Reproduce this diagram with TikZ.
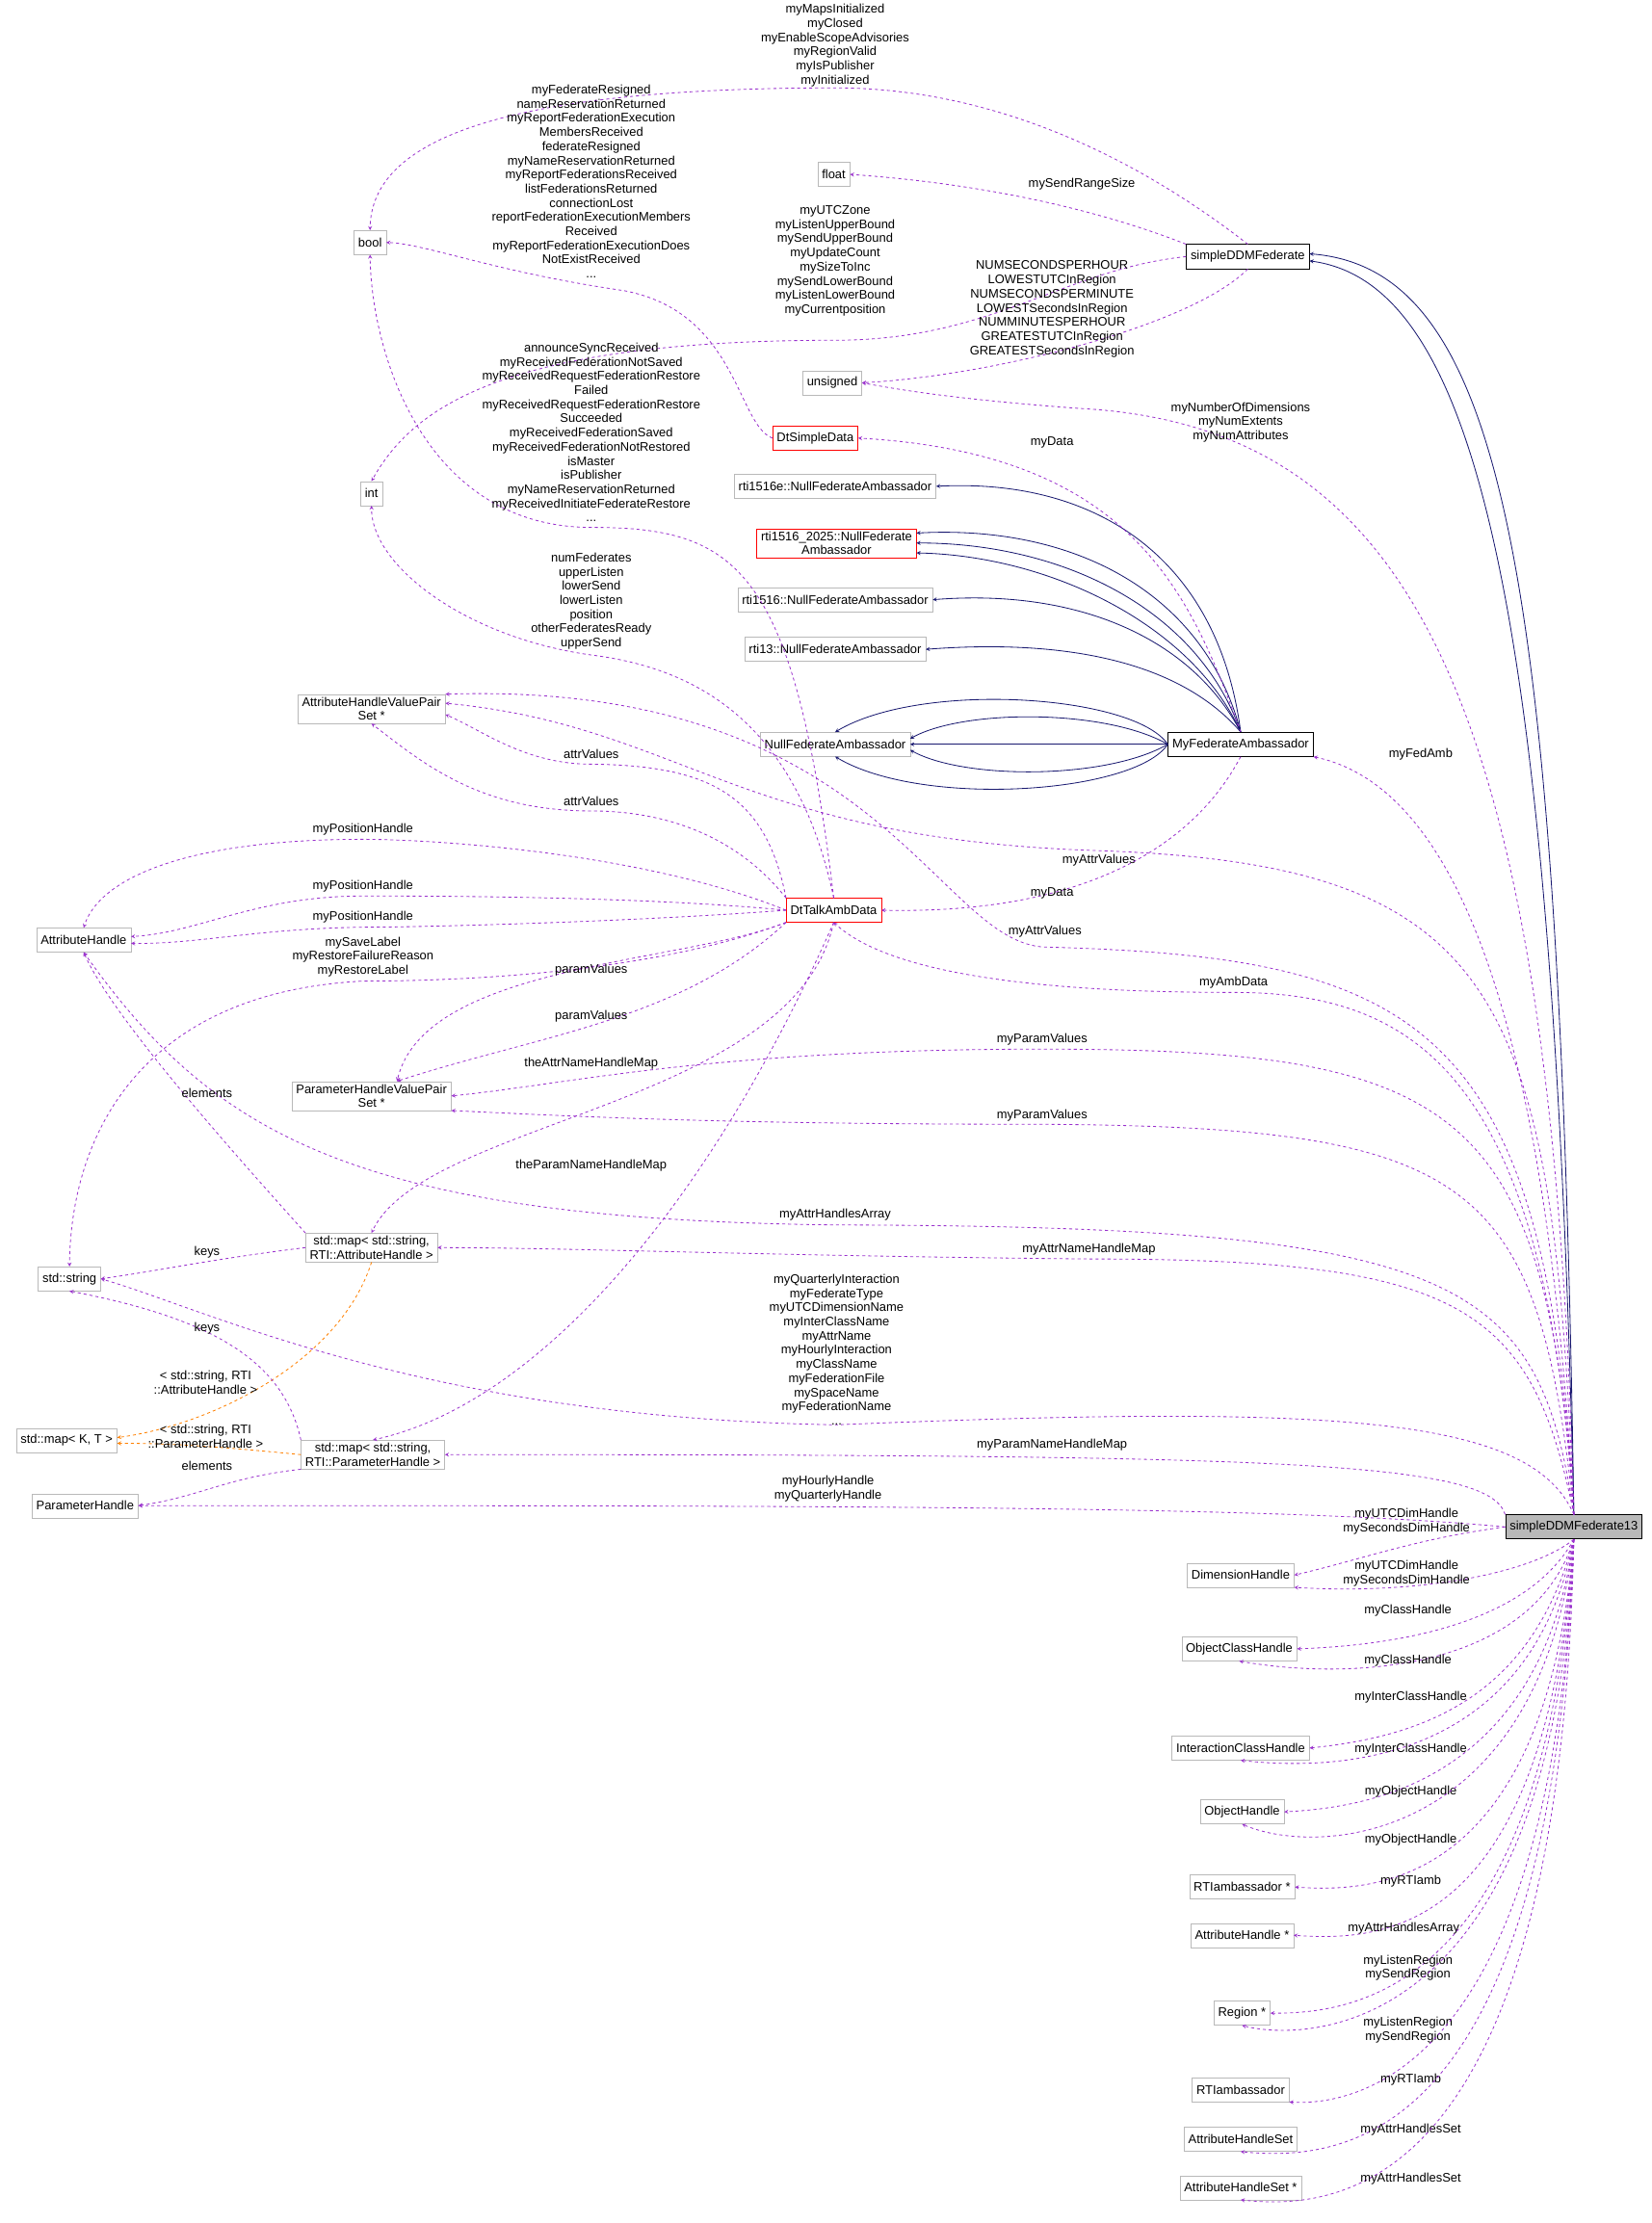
\documentclass[tikz,border=0pt]{standalone}
\usepackage{fontspec}
\setmainfont{Liberation Sans}
\usepackage{tikz}
\usetikzlibrary{positioning}
\definecolor{usecol}{HTML}{9A32CD}
\definecolor{inhcol}{HTML}{191970}
\begin{document}
\begin{tikzpicture}[x=0.05cm, y=-0.05cm,
    every node/.style={font=\fontsize{12.5}{14.2}\selectfont},
    cls/.style={rectangle, draw=gray!55, fill=white, align=center, minimum height=0.85cm, inner xsep=0.15cm, inner ysep=0.1cm},
    redcls/.style={cls, draw=red},
    main/.style={cls, draw=black, thick},
    use/.style={->, >=stealth, dashed, usecol, thick},
    inh/.style={->, >=stealth, inhcol, thick},
    tpl/.style={->, >=stealth, dashed, orange, thick},
    lbl/.style={align=center, inner sep=0pt, text=black}]
    \useasboundingbox (0,0) rectangle (1165,1568);

    % Nodes
    \node[main, fill=gray!55] (S13) at (1110,1077) {simpleDDMFederate13};
    \node[main] (SDF) at (880,181) {simpleDDMFederate};
    \node[main] (MFA) at (875,525) {MyFederateAmbassador};
    \node[cls] (BOOL) at (261,171) {bool};
    \node[cls] (FLT) at (588,123) {float};
    \node[cls] (UNS) at (587,270) {unsigned};
    \node[redcls] (DSD) at (575,309) {DtSimpleData};
    \node[cls] (INT) at (262,348) {int};
    \node[cls] (NE) at (589,343) {rti1516e::NullFederateAmbassador};
    \node[redcls] (N25) at (590,383) {rti1516\_2025::NullFederate\\Ambassador};
    \node[cls] (N16) at (589,423) {rti1516::NullFederateAmbassador};
    \node[cls] (N13) at (589,458) {rti13::NullFederateAmbassador};
    \node[cls] (NFA) at (589,525) {NullFederateAmbassador};
    \node[cls] (AHVPS) at (262,500) {AttributeHandleValuePair\\Set *};
    \node[redcls] (DTA) at (588,642) {DtTalkAmbData};
    \node[cls] (AH) at (59,663) {AttributeHandle};
    \node[cls] (PHVPS) at (262,773) {ParameterHandleValuePair\\Set *};
    \node[cls] (MA) at (262,880) {std::map\textless{} std::string,\\RTI::AttributeHandle \textgreater};
    \node[cls] (STR) at (49,902) {std::string};
    \node[cls] (MKT) at (47,1016) {std::map\textless{} K, T \textgreater};
    \node[cls] (MP) at (263,1026) {std::map\textless{} std::string,\\RTI::ParameterHandle \textgreater};
    \node[cls] (PH) at (60,1062) {ParameterHandle};
    \node[cls] (DH) at (875,1111) {DimensionHandle};
    \node[cls] (OCH) at (874,1163) {ObjectClassHandle};
    \node[cls] (ICH) at (875,1233) {InteractionClassHandle};
    \node[cls] (OH) at (876,1278) {ObjectHandle};
    \node[cls] (RAP) at (876,1331) {RTIambassador *};
    \node[cls] (AHP) at (876,1365) {AttributeHandle *};
    \node[cls] (REG) at (876,1420) {Region *};
    \node[cls] (RA) at (875,1474) {RTIambassador};
    \node[cls] (AHS) at (875,1509) {AttributeHandleSet};
    \node[cls] (AHSP) at (875,1543) {AttributeHandleSet *};

    % Inheritance
    \draw[inh] (S13.north) .. controls (1100,400) and (1060,190) .. ([yshift=0.1cm]SDF.east);
    \draw[inh] (S13.north) .. controls (1095,420) and (1040,200) .. ([yshift=-0.15cm]SDF.east);
    \draw[inh] (MFA.north) .. controls (860,400) and (780,337) .. (NE.east);
    \draw[inh] (MFA.north) .. controls (850,420) and (760,370) .. ([yshift=0.35cm]N25.east);
    \draw[inh] (MFA.north) .. controls (845,430) and (750,383) .. (N25.east);
    \draw[inh] (MFA.north) .. controls (840,440) and (740,392) .. ([yshift=-0.35cm]N25.east);
    \draw[inh] (MFA.north) .. controls (840,450) and (760,415) .. (N16.east);
    \draw[inh] (MFA.north) .. controls (835,470) and (760,450) .. (N13.east);
    \draw[inh] (MFA.west) .. controls (800,490) and (650,480) .. (NFA.north);
    \draw[inh] (MFA.west) .. controls (780,500) and (680,500) .. ([yshift=0.2cm]NFA.east);
    \draw[inh] (MFA.west) -- (NFA.east);
    \draw[inh] (MFA.west) .. controls (780,550) and (680,550) .. ([yshift=-0.2cm]NFA.east);
    \draw[inh] (MFA.west) .. controls (800,560) and (650,570) .. (NFA.south);

    % simpleDDMFederate13 members
    \draw[use] (S13.north) .. controls (1095,500) and (1000,300) .. (760,288) .. controls (680,282) and (640,276) .. (UNS.east);
    \node[lbl] (l01) at (875,298) {myNumberOfDimensions\\myNumExtents\\myNumAttributes};
    \draw[use] (S13.north) .. controls (1095,800) and (1050,560) .. (MFA.south east);
    \node[lbl] (l02) at (1002,532) {myFedAmb};
    \draw[use] (S13.north) .. controls (1095,700) and (1060,610) .. (775,600) .. controls (520,592) and (480,512) .. ([yshift=0.2cm]AHVPS.east);
    \node[lbl] (l03) at (775,607) {myAttrValues};
    \draw[use] (S13.north) .. controls (1090,720) and (1000,675) .. (737,668) .. controls (660,665) and (620,480) .. (AHVPS.north east);
    \node[lbl] (l04) at (737,657) {myAttrValues};
    \draw[use] (S13.north) .. controls (1090,760) and (1000,700) .. (870,700) .. controls (700,700) and (620,680) .. (DTA.south);
    \node[lbl] (l05) at (870,693) {myAmbData};
    \draw[use] (S13.north) .. controls (1090,780) and (1030,740) .. (735,740) .. controls (500,740) and (400,765) .. (PHVPS.east);
    \node[lbl] (l06) at (735,733) {myParamValues};
    \draw[use] (S13.north) .. controls (1085,830) and (1040,795) .. (735,793) .. controls (500,793) and (400,787) .. (PHVPS.south east);
    \node[lbl] (l07) at (735,787) {myParamValues};
    \draw[use] (S13.north) .. controls (1085,900) and (1030,865) .. (589,864) .. controls (250,860) and (150,800) .. (AH.south);
    \node[lbl] (l08) at (589,857) {myAttrHandlesArray};
    \draw[use] (S13.north) .. controls (1080,920) and (1030,888) .. (768,888) .. controls (550,886) and (400,880) .. (MA.east);
    \node[lbl] (l09) at (768,881) {myAttrNameHandleMap};
    \draw[use] (S13.north) .. controls (1080,1000) and (950,990) .. (590,1005) .. controls (300,1000) and (150,925) .. (STR.east);
    \node[lbl] (l10) at (590,952) {myQuarterlyInteraction\\myFederateType\\myUTCDimensionName\\myInterClassName\\myAttrName\\myHourlyInteraction\\myClassName\\myFederationFile\\mySpaceName\\myFederationName\\...};
    \draw[use] (S13.north west) .. controls (1050,1030) and (900,1026) .. (MP.east);
    \node[lbl] (l11) at (742,1019) {myParamNameHandleMap};
    \draw[use] (S13.west) .. controls (900,1062) and (600,1062) .. (PH.east);
    \node[lbl] (l12) at (584,1050) {myHourlyHandle\\myQuarterlyHandle};
    \draw[use] (S13.west) .. controls (1000,1085) and (960,1100) .. (DH.east);
    \node[lbl] (l13) at (992,1073) {myUTCDimHandle\\mySecondsDimHandle};
    \draw[use] (S13.south) .. controls (1080,1110) and (1000,1125) .. (DH.south east);
    \node[lbl] (l14) at (992,1110) {myUTCDimHandle\\mySecondsDimHandle};
    \draw[use] (S13.south) .. controls (1080,1140) and (1000,1160) .. (OCH.east);
    \node[lbl] (l15) at (993,1136) {myClassHandle};
    \draw[use] (S13.south) .. controls (1080,1180) and (950,1185) .. (OCH.south);
    \node[lbl] (l16) at (993,1171) {myClassHandle};
    \draw[use] (S13.south) .. controls (1080,1200) and (1000,1225) .. (ICH.east);
    \node[lbl] (l17) at (995,1197) {myInterClassHandle};
    \draw[use] (S13.south) .. controls (1080,1240) and (950,1250) .. (ICH.south);
    \node[lbl] (l18) at (995,1234) {myInterClassHandle};
    \draw[use] (S13.south) .. controls (1085,1260) and (960,1275) .. (OH.east);
    \node[lbl] (l19) at (995,1264) {myObjectHandle};
    \draw[use] (S13.south) .. controls (1085,1300) and (930,1310) .. (OH.south);
    \node[lbl] (l20) at (995,1298) {myObjectHandle};
    \draw[use] (S13.south) .. controls (1090,1330) and (970,1335) .. (RAP.east);
    \node[lbl] (l21) at (995,1327) {myRTIamb};
    \draw[use] (S13.south) .. controls (1090,1360) and (980,1370) .. (AHP.east);
    \node[lbl] (l22) at (990,1360) {myAttrHandlesArray};
    \draw[use] (S13.south) .. controls (1090,1410) and (950,1420) .. (REG.east);
    \node[lbl] (l23) at (993,1388) {myListenRegion\\mySendRegion};
    \draw[use] (S13.south) .. controls (1095,1440) and (920,1440) .. (REG.south);
    \node[lbl] (l24) at (993,1432) {myListenRegion\\mySendRegion};
    \draw[use] (S13.south) .. controls (1095,1470) and (950,1485) .. (RA.south east);
    \node[lbl] (l25) at (995,1467) {myRTIamb};
    \draw[use] (S13.south) .. controls (1095,1510) and (950,1525) .. (AHS.south);
    \node[lbl] (l26) at (995,1502) {myAttrHandlesSet};
    \draw[use] (S13.south) .. controls (1100,1540) and (950,1560) .. (AHSP.south);
    \node[lbl] (l27) at (995,1537) {myAttrHandlesSet};

    % simpleDDMFederate members
    \draw[use] (SDF.north) .. controls (800,110) and (700,62) .. (589,62) .. controls (350,62) and (262,100) .. (BOOL.north);
    \node[lbl] (l28) at (589,32) {myMapsInitialized\\myClosed\\myEnableScopeAdvisories\\myRegionValid\\myIsPublisher\\myInitialized};
    \draw[use] (SDF.north west) .. controls (780,150) and (700,130) .. (FLT.east);
    \node[lbl] (l29) at (763,130) {mySendRangeSize};
    \draw[use] (SDF.west) .. controls (750,190) and (700,240) .. (589,240) .. controls (350,240) and (290,290) .. (INT.north);
    \node[lbl] (l30) at (589,184) {myUTCZone\\myListenUpperBound\\mySendUpperBound\\myUpdateCount\\mySizeToInc\\mySendLowerBound\\myListenLowerBound\\myCurrentposition};
    \draw[use] (SDF.south) .. controls (840,230) and (700,265) .. (UNS.east);
    \node[lbl] (l31) at (742,218) {NUMSECONDSPERHOUR\\LOWESTUTCInRegion\\NUMSECONDSPERMINUTE\\LOWESTSecondsInRegion\\NUMMINUTESPERHOUR\\GREATESTUTCInRegion\\GREATESTSecondsInRegion};

    % DtSimpleData and MyFederateAmbassador members
    \draw[use] (DSD.west) .. controls (520,300) and (520,220) .. (440,205) .. controls (350,192) and (300,172) .. (BOOL.east);
    \node[lbl] (l32) at (417,128) {myFederateResigned\\nameReservationReturned\\myReportFederationExecution\\MembersReceived\\federateResigned\\myNameReservationReturned\\myReportFederationsReceived\\listFederationsReturned\\connectionLost\\reportFederationExecutionMembers\\Received\\myReportFederationExecutionDoes\\NotExistReceived\\...};
    \draw[use] (MFA.north) .. controls (840,420) and (800,320) .. (DSD.east);
    \node[lbl] (l33) at (742,312) {myData};
    \draw[use] (MFA.south) .. controls (840,600) and (760,645) .. (DTA.east);
    \node[lbl] (l34) at (742,630) {myData};

    % DtTalkAmbData members
    \draw[use] (DTA.north) .. controls (560,400) and (520,372) .. (417,372) .. controls (300,372) and (262,250) .. (BOOL.south);
    \node[lbl] (l35) at (417,305) {announceSyncReceived\\myReceivedFederationNotSaved\\myReceivedRequestFederationRestore\\Failed\\myReceivedRequestFederationRestore\\Succeeded\\myReceivedFederationSaved\\myReceivedFederationNotRestored\\isMaster\\isPublisher\\myNameReservationReturned\\myReceivedInitiateFederateRestore\\...};
    \draw[use] (DTA.north) .. controls (560,500) and (480,470) .. (417,462) .. controls (330,450) and (262,400) .. (INT.south);
    \node[lbl] (l36) at (417,424) {numFederates\\upperListen\\lowerSend\\lowerListen\\position\\otherFederatesReady\\upperSend};
    \draw[use] (DTA.north west) .. controls (540,560) and (500,540) .. (417,539) .. controls (370,539) and (340,515) .. ([yshift=-0.2cm]AHVPS.east);
    \node[lbl] (l37) at (417,532) {attrValues};
    \draw[use] (DTA.north west) .. controls (520,590) and (470,572) .. (417,572) .. controls (340,572) and (300,540) .. (AHVPS.south);
    \node[lbl] (l38) at (417,565) {attrValues};
    \draw[use] (DTA.west) .. controls (450,600) and (300,592) .. (256,592) .. controls (130,592) and (70,620) .. (AH.north);
    \node[lbl] (l39) at (256,585) {myPositionHandle};
    \draw[use] (DTA.west) .. controls (450,632) and (300,632) .. (256,632) .. controls (180,632) and (140,658) .. ([yshift=0.12cm]AH.east);
    \node[lbl] (l40) at (256,625) {myPositionHandle};
    \draw[use] (DTA.west) .. controls (450,650) and (300,654) .. (256,654) .. controls (180,655) and (140,666) .. ([yshift=-0.12cm]AH.east);
    \node[lbl] (l41) at (256,647) {myPositionHandle};
    \draw[use] (DTA.south west) .. controls (450,690) and (300,692) .. (256,692) .. controls (100,700) and (50,800) .. (STR.north);
    \node[lbl] (l42) at (256,675) {mySaveLabel\\myRestoreFailureReason\\myRestoreLabel};
    \draw[use] (DTA.south west) .. controls (480,680) and (300,680) .. ([xshift=0.9cm]PHVPS.north);
    \node[lbl] (l43) at (417,684) {paramValues};
    \draw[use] (DTA.south west) .. controls (480,720) and (380,730) .. ([xshift=0.9cm]PHVPS.north);
    \node[lbl] (l44) at (417,717) {paramValues};
    \draw[use] (DTA.south) .. controls (560,780) and (300,790) .. (MA.north);
    \node[lbl] (l45) at (417,750) {theAttrNameHandleMap};
    \draw[use] (DTA.south) .. controls (500,850) and (380,990) .. (MP.north);
    \node[lbl] (l46) at (417,822) {theParamNameHandleMap};

    % std::map members
    \draw[use] (MA.north west) .. controls (180,830) and (80,720) .. (AH.south);
    \node[lbl] (l47) at (146,771) {elements};
    \draw[use] (MA.west) .. controls (150,888) and (120,895) .. (STR.east);
    \node[lbl] (l48) at (146,883) {keys};
    \draw[tpl] (MA.south) .. controls (240,960) and (150,1005) .. ([yshift=0.1cm]MKT.east);
    \node[lbl] (l49) at (145,975) {\textless{} std::string, RTI\\::AttributeHandle \textgreater};
    \draw[use] (MP.north west) .. controls (200,960) and (150,930) .. (STR.south);
    \node[lbl] (l50) at (146,937) {keys};
    \draw[tpl] (MP.west) .. controls (150,1020) and (120,1018) .. ([yshift=-0.1cm]MKT.east);
    \node[lbl] (l51) at (145,1013) {\textless{} std::string, RTI\\::ParameterHandle \textgreater};
    \draw[use] (MP.south west) .. controls (160,1042) and (140,1056) .. (PH.east);
    \node[lbl] (l52) at (146,1034) {elements};
\end{tikzpicture}
\end{document}
